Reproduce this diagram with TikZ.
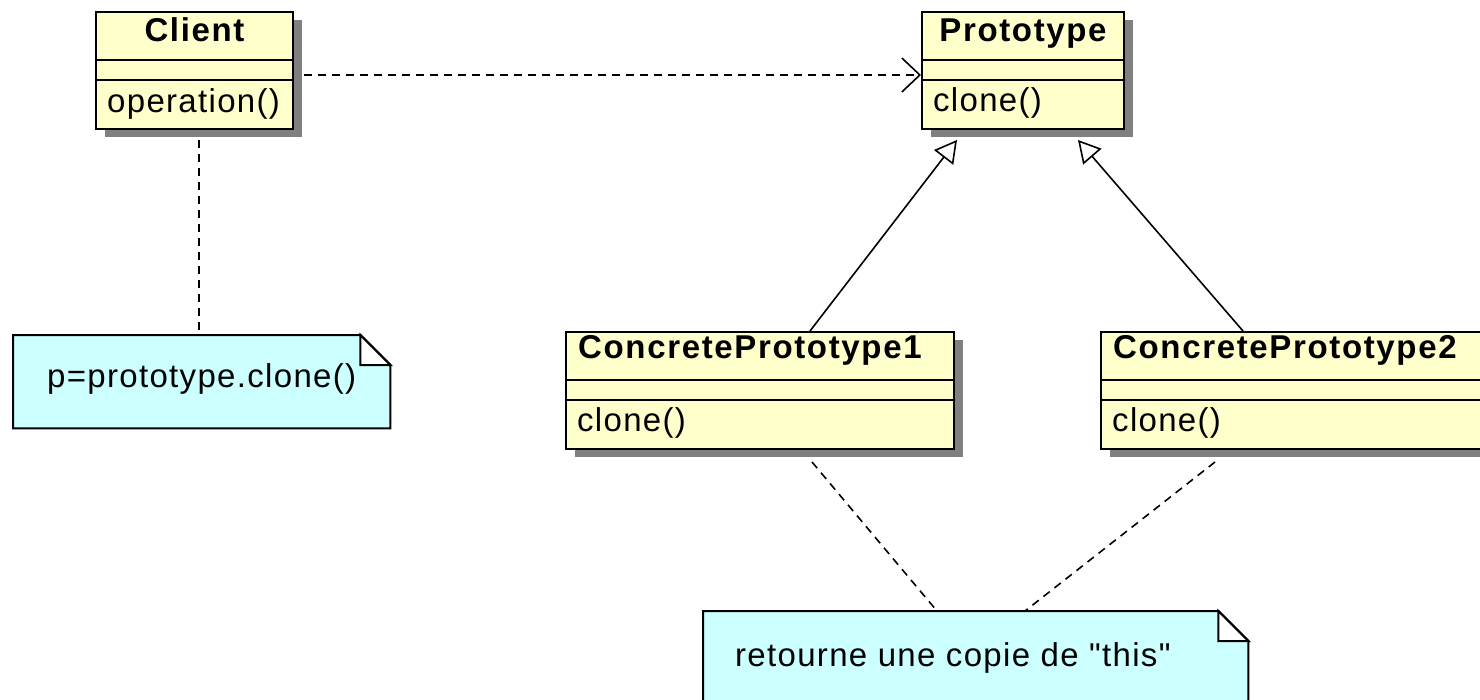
\documentclass[tikz,border=0pt]{standalone}
\usepackage{fontspec}
\newfontfamily\umlfont{Liberation Sans}[LetterSpace=4]
\newfontfamily\umlbold{Liberation Sans Bold}[LetterSpace=5]
\usetikzlibrary{arrows.meta,shadows}
\definecolor{umlyellow}{RGB}{255,255,204}
\definecolor{umlcyan}{RGB}{204,255,255}
\definecolor{shadowgray}{RGB}{128,128,128}
\tikzset{
  cls/.style={draw, line width=2pt, fill=umlyellow, anchor=north west, inner sep=0pt,
    general shadow={fill=shadowgray, shadow xshift=9pt, shadow yshift=-8pt}},
  notebox/.style={anchor=north west, inner sep=0pt},
  notedraw/.style={draw, line width=2pt, fill=umlcyan},
  sepline/.style={line width=2pt},
  lbl/.style={inner sep=0pt},
  hdr/.style={inner sep=0pt, anchor=base, font=\umlbold\fontsize{33}{38}\selectfont},
  body/.style={inner sep=0pt, anchor=base west},
  dep/.style={line width=1.6pt, dash pattern=on 8pt off 6pt},
  inh/.style={line width=1.6pt, -{Triangle[open, length=22pt, width=24pt, fill=white, line width=1.6pt]}},
  usearrow/.style={dep, -{Straight Barb[length=18pt, width=34pt, line width=1.6pt]}}
}
\begin{document}
\begin{tikzpicture}[x=1pt, y=-1pt, font=\umlfont\fontsize{33}{38}\selectfont]
\useasboundingbox (0,0) rectangle (1480,699);

% Classes
\node[cls, minimum width=197pt, minimum height=117pt] (client) at (95,11) {};
\node[cls, minimum width=202pt, minimum height=117pt] (proto) at (921,11) {};
\node[cls, minimum width=388pt, minimum height=117pt] (cp1) at (565,331) {};
\node[cls, minimum width=388pt, minimum height=117pt] (cp2) at (1100,331) {};

\foreach \c in {client,proto,cp1,cp2}{
  \draw[sepline] ([yshift=-49pt]\c.north west) -- ([yshift=-49pt]\c.north east);
  \draw[sepline] ([yshift=-69pt]\c.north west) -- ([yshift=-69pt]\c.north east);
}

\node[hdr] (clientname) at ([yshift=-30pt]client.north) {Client};
\node[body] (clientop) at ([xshift=12pt, yshift=-101pt]client.north west) {operation()};
\node[hdr] (protoname) at ([yshift=-30pt]proto.north) {Prototype};
\node[body] (protoop) at ([xshift=12pt, yshift=-100pt]proto.north west) {clone()};
\node[hdr, anchor=base west] (cp1name) at ([xshift=13pt, yshift=-27pt]cp1.north west) {ConcretePrototype1};
\node[body] (cp1op) at ([xshift=12pt, yshift=-100pt]cp1.north west) {clone()};
\node[hdr, anchor=base west] (cp2name) at ([xshift=13pt, yshift=-27pt]cp2.north west) {ConcretePrototype2};
\node[body] (cp2op) at ([xshift=12pt, yshift=-100pt]cp2.north west) {clone()};

% Notes
\node[notebox, minimum width=377pt, minimum height=93pt] (note1) at (13,335) {};
\draw[notedraw] (note1.north west) -- ([xshift=-30pt]note1.north east) -- ([yshift=-30pt]note1.north east) -- (note1.south east) -- (note1.south west) -- cycle;
\draw[line width=2pt, fill=white] ([xshift=-30pt]note1.north east) -- ([xshift=-30pt, yshift=-30pt]note1.north east) -- ([yshift=-30pt]note1.north east) -- cycle;
\node[lbl, anchor=base] (note1text) at ([yshift=-52pt]note1.north) {p=prototype.clone()};

\node[notebox, minimum width=545pt, minimum height=120pt] (note2) at (703,611) {};
\draw[notedraw] (note2.north west) -- ([xshift=-30pt]note2.north east) -- ([yshift=-30pt]note2.north east) -- (note2.south east) -- (note2.south west) -- cycle;
\draw[line width=2pt, fill=white] ([xshift=-30pt]note2.north east) -- ([xshift=-30pt, yshift=-30pt]note2.north east) -- ([yshift=-30pt]note2.north east) -- cycle;
\node[body] (note2text) at ([xshift=32pt, yshift=-55pt]note2.north west) {retourne une copie de "this"};

% Connectors
\draw[usearrow] ([xshift=10pt, yshift=-64pt]client.north east) -- ([yshift=-64pt]proto.north west);
\draw[dep] ([xshift=104pt, yshift=-10pt]client.south west) -- ([xshift=186pt]note1.north west);
\draw[inh] ([xshift=245pt]cp1.north west) -- ([xshift=36pt, yshift=-10pt]proto.south west);
\draw[inh] ([xshift=143pt]cp2.north west) -- ([xshift=157pt, yshift=-10pt]proto.south west);
\draw[dep] ([xshift=247pt, yshift=-12pt]cp1.south west) -- ([xshift=234pt]note2.north west);
\draw[dep] ([xshift=115pt, yshift=-12pt]cp2.south west) -- ([xshift=322pt]note2.north west);
\end{tikzpicture}
\end{document}
